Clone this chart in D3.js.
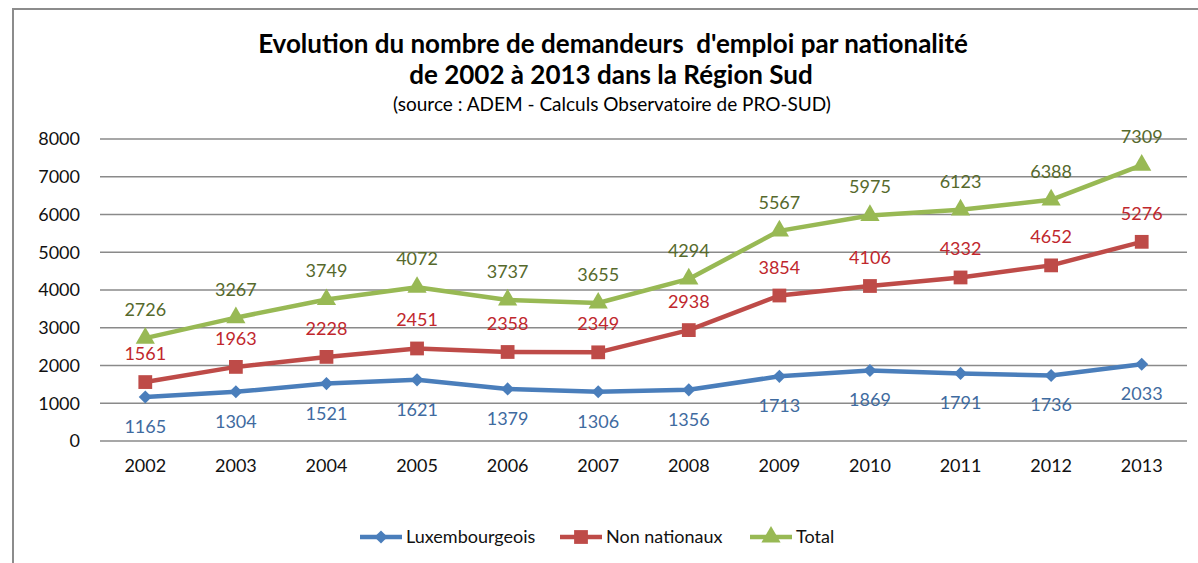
<!DOCTYPE html>
<html>
<head>
<meta charset="utf-8">
<script src="https://cdn.jsdelivr.net/npm/d3@7"></script>
<style>
body { margin: 0; background: white; }
svg { font-family: Lato, "Open Sans", sans-serif; }
</style>
</head>
<body>
<svg id="chart" width="1198" height="563"></svg>
<script>
const years = ["2002","2003","2004","2005","2006","2007","2008","2009","2010","2011","2012","2013"];
const luxembourgeois = [1165,1304,1521,1621,1379,1306,1356,1713,1869,1791,1736,2033];
const nonNationaux = [1561,1963,2228,2451,2358,2349,2938,3854,4106,4332,4652,5276];
const total = [2726,3267,3749,4072,3737,3655,4294,5567,5975,6123,6388,7309];
const yTicks = [0,1000,2000,3000,4000,5000,6000,7000,8000];

var series = [
	{name: "Luxembourgeois", values: luxembourgeois, color: "#4a7ebb", text: "#3f6b9f", marker: "diamond", below: true},
	{name: "Non nationaux", values: nonNationaux, color: "#be4b48", text: "#c0272d", marker: "square", below: false},
	{name: "Total", values: total, color: "#98b954", text: "#56692c", marker: "triangle", below: false}
];

var svg = d3.select("#chart");
var margin = {top: 139, left: 100, right: 11, bottom: 122};
var innerWidth = 1198 - margin.left - margin.right;

// frame (only the left and top edges are visible)
svg.append("path")
	.attr("d", "M13,563 L13,9 L1198,9")
	.attr("fill", "none")
	.attr("stroke", "#8c8c8c")
	.attr("stroke-width", 2);

// titles
svg.append("text").attr("x", 613).attr("y", 53)
	.attr("text-anchor", "middle").style("font-size", "26px").style("font-weight", "bold")
	.attr("xml:space", "preserve")
	.text("Evolution du nombre de demandeurs  d'emploi par nationalité");
svg.append("text").attr("x", 611).attr("y", 84)
	.attr("text-anchor", "middle").style("font-size", "26px").style("font-weight", "bold")
	.text("de 2002 à 2013 dans la Région Sud");
svg.append("text").attr("x", 612).attr("y", 111)
	.attr("text-anchor", "middle").style("font-size", "19px")
	.text("(source : ADEM - Calculs Observatoire de PRO-SUD)");

var g = svg.append("g")
	.attr("transform", "translate(" + margin.left + "," + margin.top + ")");

var x = d3.scaleBand().domain(years).range([0, innerWidth]);
var y = d3.scaleLinear().domain([0, 8000]).range([302, 0]);

// gridlines
g.append("g")
	.selectAll("line")
	.data(yTicks)
	.enter().append("line")
	.attr("x1", 0).attr("x2", innerWidth)
	.attr("y1", d => y(d)).attr("y2", d => y(d))
	.attr("stroke", "#8a8a8a")
	.attr("stroke-width", 1.3);

// y axis
var yAxis = g.append("g")
	.attr("transform", "translate(-8,0)")
	.call(d3.axisLeft(y).tickValues(yTicks).tickFormat(d3.format("d")).tickSize(0).tickPadding(12));
yAxis.select(".domain").remove();
yAxis.selectAll("text").style("font-size", "18px").style("fill", "#111").style("font-family", "Lato, sans-serif");

// x axis
var xAxis = g.append("g")
	.attr("transform", "translate(0," + y(0) + ")")
	.call(d3.axisBottom(x).tickSize(0).tickPadding(18));
xAxis.select(".domain").remove();
xAxis.selectAll("text").style("font-size", "18px").style("fill", "#111").style("font-family", "Lato, sans-serif");

function markerPath(type) {
	if (type == "diamond") return d3.symbol().type(d3.symbolDiamond2).size(110)();
	if (type == "square") return d3.symbol().type(d3.symbolSquare).size(190)();
	return d3.symbol().type(d3.symbolTriangle).size(160)();
}

var line = d3.line()
	.x((d, i) => x(years[i]) + x.bandwidth() / 2)
	.y(d => y(d));

series.forEach(function(s) {
	var sg = g.append("g");
	sg.append("path")
		.datum(s.values)
		.attr("d", line)
		.attr("fill", "none")
		.attr("stroke", s.color)
		.attr("stroke-width", 4.5)
		.attr("stroke-linejoin", "round");

	sg.selectAll("path.marker")
		.data(s.values)
		.enter().append("path")
		.attr("class", "marker")
		.attr("d", markerPath(s.marker))
		.attr("transform", (d, i) => "translate(" + (x(years[i]) + x.bandwidth() / 2) + "," + y(d) + ")")
		.attr("fill", s.color);

	sg.selectAll("text")
		.data(s.values)
		.enter().append("text")
		.attr("x", (d, i) => x(years[i]) + x.bandwidth() / 2)
		.attr("y", d => s.below ? y(d) + 36 : y(d) - 22)
		.attr("text-anchor", "middle")
		.style("font-size", "18px")
		.style("fill", s.text)
		.text(d => d);
});

// legend
var legendItems = [
	{s: series[0], x: 360},
	{s: series[1], x: 560},
	{s: series[2], x: 750}
];
var legend = svg.append("g");
legendItems.forEach(function(it) {
	var lg = legend.append("g").attr("transform", "translate(" + it.x + ",537)");
	lg.append("line").attr("x1", 0).attr("x2", 42).attr("y1", 0).attr("y2", 0)
		.attr("stroke", it.s.color).attr("stroke-width", 4.5);
	lg.append("path").attr("d", markerPath(it.s.marker))
		.attr("transform", "translate(21,0)").attr("fill", it.s.color);
	lg.append("text").attr("x", 46).attr("y", 6)
		.style("font-size", "18px").style("fill", "#111")
		.text(it.s.name);
});
</script>
</body>
</html>
